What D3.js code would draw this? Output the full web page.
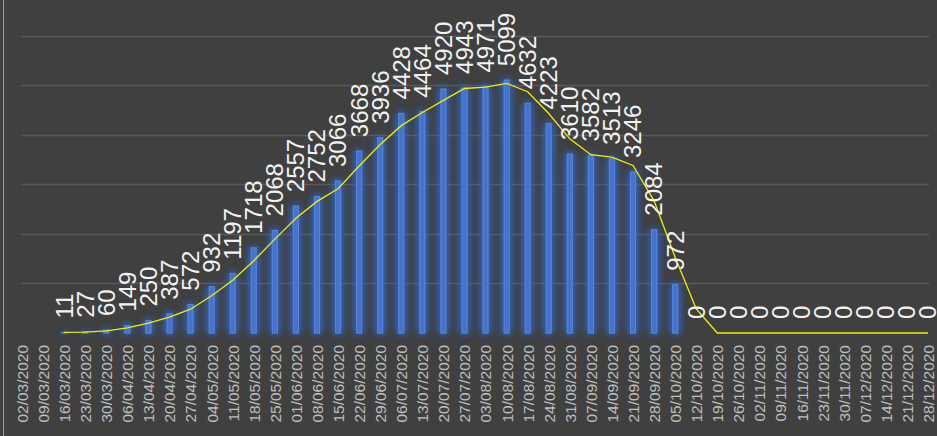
<!DOCTYPE html>
<html>
<head>
<meta charset="utf-8">
<script src="https://cdn.jsdelivr.net/npm/d3@7"></script>
<style>
    html, body { margin: 0; padding: 0; background: #404040; }
    svg { display: block; }
</style>
</head>
<body>
<div id="chart"></div>
<script>
const weeks = ['02/03/2020','09/03/2020','16/03/2020','23/03/2020','30/03/2020','06/04/2020','13/04/2020','20/04/2020','27/04/2020',
    '04/05/2020','11/05/2020','18/05/2020','25/05/2020','01/06/2020','08/06/2020','15/06/2020','22/06/2020','29/06/2020',
    '06/07/2020','13/07/2020','20/07/2020','27/07/2020','03/08/2020','10/08/2020','17/08/2020','24/08/2020','31/08/2020',
    '07/09/2020','14/09/2020','21/09/2020','28/09/2020','05/10/2020','12/10/2020','19/10/2020','26/10/2020',
    '02/11/2020','09/11/2020','16/11/2020','23/11/2020','30/11/2020','07/12/2020','14/12/2020','21/12/2020','28/12/2020']

const cases = [null,null,11,27,60,149,250,387,572,932,1197,1718,2068,2557,2752,3066,3668,3936,
    4428,4464,4920,4943,4971,5099,4632,4223,3610,3582,3513,3246,2084,972,0,0,0,0,0,0,0,0,0,0,0,0]

// courbe jaune (moyenne mobile sur 2 semaines)
const trend = [null,null,11,19,43.5,104.5,199.5,318.5,479.5,752,1064.5,1457.5,1893,2312.5,2654.5,2909,3367,3802,
    4182,4446,4692,4931.5,4957,5035,4865.5,4427.5,3916.5,3596,3547.5,3379.5,2665,1528,486,0,0,0,0,0,0,0,0,0,0,0]

const yTicks = [1000,2000,3000,4000,5000,6000]

const width = 937
const height = 436

const svg = d3.select('#chart')
    .append('svg')
    .attr('width', width)
    .attr('height', height)

svg.append('rect')
    .attr('width', width)
    .attr('height', height)
    .attr('fill', '#404040')

svg.append('line')
    .attr('x1', 3.5).attr('x2', 3.5)
    .attr('y1', 0).attr('y2', height)
    .attr('stroke', '#9a9a9a')
    .attr('stroke-width', 1)

const defs = svg.append('defs')
const glow = defs.append('filter')
    .attr('id', 'glow')
    .attr('x', '-300%').attr('y', '-20%')
    .attr('width', '700%').attr('height', '140%')
glow.append('feGaussianBlur')
    .attr('in', 'SourceAlpha')
    .attr('stdDeviation', 4)
    .attr('result', 'blur')
glow.append('feFlood')
    .attr('flood-color', '#3466c8')
    .attr('flood-opacity', 1)
glow.append('feComposite')
    .attr('in2', 'blur')
    .attr('operator', 'in')
    .attr('result', 'halo')
const merge = glow.append('feMerge')
merge.append('feMergeNode').attr('in', 'halo')
merge.append('feMergeNode').attr('in', 'halo')
merge.append('feMergeNode').attr('in', 'SourceGraphic')

const x = d3.scalePoint()
    .domain(weeks)
    .range([22, 928])

const y = d3.scaleLinear()
    .domain([0, 6000])
    .range([333, 35.5])

// grille
svg.append('g')
    .selectAll('line')
    .data(yTicks)
    .enter()
    .append('line')
        .attr('x1', 21)
        .attr('x2', 929)
        .attr('y1', d => Math.round(y(d)) + 0.5)
        .attr('y2', d => Math.round(y(d)) + 0.5)
        .attr('stroke', '#595959')
        .attr('stroke-width', 1.3)

const data = weeks.map((w, i) => ({week: w, value: cases[i], avg: trend[i]}))

const barW = 5

svg.append('g')
    .attr('filter', 'url(#glow)')
    .selectAll('rect')
    .data(data.filter(d => d.value))
    .enter()
    .append('rect')
        .attr('x', d => x(d.week) - barW / 2)
        .attr('y', d => y(d.value))
        .attr('width', barW)
        .attr('height', d => y(0) - y(d.value))
        .attr('fill', '#4672c8')
        .attr('stroke', '#4f84e4')
        .attr('stroke-width', 1.2)

const line = d3.line()
    .defined(d => d.avg != null)
    .x(d => x(d.week))
    .y(d => y(d.avg))

svg.append('path')
    .datum(data)
    .attr('fill', 'none')
    .attr('stroke', '#f0f000')
    .attr('stroke-width', 1.3)
    .attr('d', line)

// étiquettes de valeurs
svg.append('g')
    .selectAll('text')
    .data(data.filter(d => d.value != null))
    .enter()
    .append('text')
        .attr('transform', d => `translate(${x(d.week)}, ${y(d.value) - 14}) rotate(-90)`)
        .attr('text-anchor', 'start')
        .attr('dy', '0.35em')
        .attr('fill', '#f2f2f2')
        .style('font-family', '"Liberation Sans", Arial, sans-serif')
        .style('font-size', '24px')
        .text(d => d.value)

const xAxis = d3.axisBottom(x).tickSize(0).tickPadding(0)

const xAxisGroup = svg.append('g')
    .attr('transform', 'translate(0, 345)')
    .call(xAxis)

xAxisGroup.select('.domain').remove()
xAxisGroup.selectAll('text')
    .attr('transform', 'rotate(-90)')
    .attr('text-anchor', 'end')
    .attr('x', 0)
    .attr('y', 0)
    .attr('dy', '0.35em')
    .attr('fill', '#bfbfbf')
    .style('font-family', '"Liberation Sans", Arial, sans-serif')
    .style('font-size', '15.5px')
</script>
</body>
</html>
